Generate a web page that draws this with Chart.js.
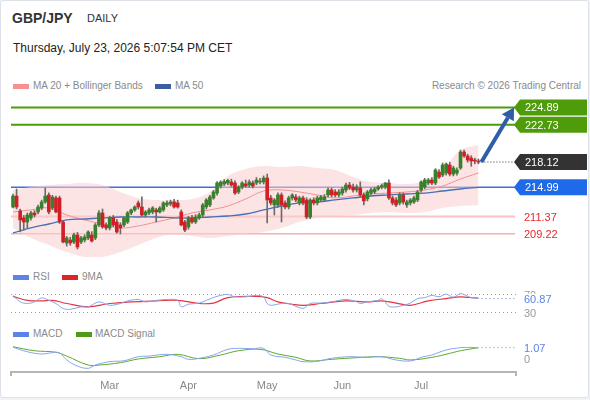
<!DOCTYPE html>
<html>
<head>
<meta charset="utf-8">
<script src="https://cdn.jsdelivr.net/npm/chart.js@4.4.1/dist/chart.umd.min.js"></script>
<style>
  body { margin: 0; background: #f1f3f6; font-family: Arial, "Liberation Sans", sans-serif; }
  #card { position: absolute; left: 0; top: 0; width: 587px; height: 396px; background: #fff; border: 1px solid #dde2e8; border-radius: 3px; }
  canvas { position: absolute; left: 0; }
  .t { position: absolute; white-space: nowrap; line-height: 1; }
  .lg { position: absolute; white-space: nowrap; font-size: 10px; color: #8a8a8a; line-height: 1; }
  .sw { position: absolute; width: 16px; height: 5px; }
</style>
</head>
<body>
<div id="card"></div>
<div class="t" style="left:12px;top:11px;font-size:14px;font-weight:bold;color:#333">GBP/JPY</div>
<div class="t" style="left:87px;top:13px;font-size:11px;color:#333">DAILY</div>
<div class="t" style="left:13px;top:42px;font-size:12px;color:#222">Thursday, July 23, 2026 5:07:54 PM CET</div>

<div class="sw" style="left:13px;top:84px;background:#f79191"></div>
<div class="lg" style="left:33px;top:81px">MA 20 + Bollinger Bands</div>
<div class="sw" style="left:155px;top:84px;background:#3d5fa0"></div>
<div class="lg" style="left:175px;top:81px">MA 50</div>
<div class="lg" style="left:380px;top:81px;width:201px;text-align:right">Research © 2026 Trading Central</div>

<div class="sw" style="left:13px;top:275px;background:#5b84e6"></div>
<div class="lg" style="left:33px;top:272px">RSI</div>
<div class="sw" style="left:62px;top:275px;background:#e02424"></div>
<div class="lg" style="left:82px;top:272px">9MA</div>

<div class="sw" style="left:13px;top:332px;background:#5b84e6"></div>
<div class="lg" style="left:33px;top:329px">MACD</div>
<div class="sw" style="left:76px;top:332px;background:#4e9a1a"></div>
<div class="lg" style="left:95px;top:329px">MACD Signal</div>

<canvas id="main" width="590" height="172" style="top:90px"></canvas>
<canvas id="rsi" width="590" height="45" style="top:281px"></canvas>
<canvas id="macd" width="590" height="66" style="top:334px"></canvas>

<script>
// daily candles, GBP/JPY, 22 Jan - 23 Jul
const opens = [212.55,213.91,212.06,211.19,210.69,211.19,211.81,211.93,212.43,213.17,
  214.04,212.43,213.67,213.67,210.69,208.09,208.46,208.21,209.08,208.21,
  208.46,208.71,209.08,208.71,210.32,211.81,210.32,209.95,211.19,210.69,
  210.32,210.32,210.69,211.81,212.18,213.05,212.55,211.56,211.81,211.93,
  212.18,211.93,212.18,212.80,212.92,213.17,213.05,211.93,210.69,210.07,
  211.19,210.69,211.19,211.56,212.55,212.80,213.67,214.28,215.15,215.40,
  215.52,215.65,215.52,214.41,215.03,215.40,215.27,215.52,215.52,215.65,
  215.65,216.14,213.67,212.80,212.80,214.04,213.05,212.55,213.67,213.79,
  213.05,213.67,213.42,211.31,213.42,213.05,213.42,213.42,214.04,214.66,
  214.41,214.04,214.28,214.66,215.27,215.03,214.66,214.90,214.04,213.55,
  214.28,214.41,214.78,215.03,215.03,215.52,213.67,213.42,213.05,214.04,
  212.80,213.05,213.17,213.42,214.66,215.03,215.52,215.89,215.52,216.88,
  216.51,216.76,217.75,216.63,216.76,217.38,219.36,218.87,218.62,218.37,218.25];
const highs = [214.16,214.78,212.30,211.50,211.81,212.00,212.10,212.80,213.40,214.90,
  214.30,214.00,213.90,213.90,210.90,208.90,208.80,209.30,209.40,208.90,
  209.10,209.60,209.50,210.50,212.10,212.30,210.60,211.40,211.50,211.00,
  210.60,211.30,212.00,212.30,212.70,213.30,213.80,212.10,212.40,212.60,
  212.40,212.60,213.20,213.30,213.40,213.50,213.40,212.20,210.90,211.40,
  211.50,211.60,211.80,213.00,213.60,214.00,214.60,215.70,215.80,215.95,
  216.00,216.00,215.80,215.20,215.70,215.90,215.90,215.80,216.20,216.10,
  216.40,216.63,214.00,213.60,214.30,214.30,213.30,213.90,214.20,214.10,
  213.90,213.90,213.70,213.60,213.70,213.90,214.00,214.10,214.90,214.90,
  214.70,214.70,215.00,215.50,215.60,215.40,215.30,215.65,214.30,214.60,
  214.90,215.00,215.20,215.40,215.60,215.90,213.90,213.70,214.30,214.30,
  213.40,213.60,213.90,214.60,215.80,216.10,216.10,216.20,217.30,217.20,
  218.00,218.00,218.10,217.60,217.40,219.60,219.60,219.10,218.90,218.60,218.50];
const lows = [212.43,212.30,209.45,209.70,209.95,210.90,211.30,211.70,212.20,213.00,
  211.70,212.20,211.80,210.50,208.10,207.70,207.80,208.00,207.34,208.00,
  208.20,208.50,208.20,208.50,210.10,209.90,209.70,209.70,210.10,209.30,
  209.20,210.10,210.50,211.60,212.00,212.30,211.40,211.30,211.60,211.70,
  210.70,211.80,212.00,212.60,212.70,212.40,212.40,210.20,209.50,209.80,
  210.50,210.50,211.00,211.30,212.30,212.60,213.50,214.00,214.90,215.20,
  215.30,215.10,214.10,214.20,214.80,215.00,215.00,214.90,215.30,215.40,
  215.40,210.57,212.80,211.56,212.50,210.69,212.30,212.30,213.40,213.20,
  212.80,212.80,211.10,211.10,212.80,212.80,213.20,213.20,213.80,213.80,
  213.80,213.80,214.00,214.40,214.70,214.40,214.40,213.80,212.80,213.30,
  214.00,214.20,214.60,214.80,214.80,213.50,212.80,212.60,212.80,212.90,
  212.50,212.80,213.00,213.20,214.40,214.80,215.30,215.30,215.30,216.10,
  216.30,216.50,216.40,216.40,216.50,217.20,218.70,218.10,217.60,217.90,217.90];
const closes = [213.91,212.55,210.94,210.69,211.56,211.81,211.56,212.55,213.17,213.91,
  211.93,213.79,211.93,210.69,208.21,208.71,208.09,209.08,207.59,208.71,
  208.83,209.45,208.33,210.32,211.81,210.07,209.95,211.19,210.32,209.45,
  209.95,211.19,211.81,212.18,212.55,212.55,211.56,211.93,212.18,212.43,
  211.93,212.43,213.05,213.05,213.17,212.55,212.55,210.32,209.70,211.19,
  210.69,211.31,211.56,212.80,213.42,213.79,214.41,215.52,215.65,215.70,
  215.85,215.27,214.28,215.03,215.52,215.15,215.65,215.15,215.89,215.77,
  216.14,213.42,213.05,213.42,214.04,212.80,212.55,213.67,214.04,213.42,
  213.67,213.05,211.31,213.42,213.05,213.67,213.79,213.79,214.66,214.04,
  214.04,214.41,214.78,215.27,214.90,214.66,215.03,214.04,213.30,214.41,
  214.66,214.78,215.03,215.20,215.52,213.67,213.05,212.80,214.04,213.17,
  213.17,213.42,213.67,214.41,215.65,215.89,215.89,215.52,217.13,216.26,
  217.75,217.87,216.63,217.38,217.13,219.36,218.87,218.37,218.25,218.25,218.12];

// indicator readings (bar index -> value)
const bandIdx = [0,5,10,15,20,25,30,35,40,45,50,55,60,65,70,75,80,85,90,95,100,105,110,115,120,125,130];
const bbUpper = [214.66,215.03,215.27,215.40,215.52,215.27,214.41,213.67,213.42,213.42,213.54,214.41,216.39,217.26,217.63,217.51,217.63,217.38,217.13,216.27,215.65,215.52,215.40,215.77,217.13,219.61,220.23];
const bbLower = [209.95,208.71,207.84,206.97,206.35,206.35,206.97,207.84,208.71,209.20,208.96,208.71,208.96,209.20,209.45,209.95,210.69,211.19,211.43,211.56,211.81,211.93,211.81,211.93,212.43,212.67,212.80];
const ma20 = [211.93,212.18,212.43,211.56,210.94,210.44,209.95,210.20,210.69,211.19,211.81,212.18,212.67,213.54,214.53,214.66,214.41,214.04,213.67,213.91,214.16,214.28,214.41,214.66,215.15,216.02,216.76];
const ma50 = [209.33,209.95,210.44,210.94,211.06,211.19,211.31,211.31,211.31,211.19,211.19,211.31,211.43,211.68,212.18,212.67,213.05,213.17,213.42,213.67,213.91,214.04,214.16,214.28,214.53,214.78,214.99];

const rsiIdx = [0,2,4,6,8,10,12,14,16,19,21,24,27,30,32,35,37,40,43,46,47,49,52,54,57,60,62,65,68,70,71,72,75,77,81,83,86,89,93,96,97,99,102,103,105,107,109,111,113,115,117,119,121,123,125,127,128,130];
const rsiVals = [68,53.6,50,53.6,62.6,57,50,39,37,42.5,42.5,53.6,46,50,55.8,59,53.6,57,59,57,42.5,48.4,51,57,66,70,64.7,64.7,68,64.7,50,46,50,50,39,50,51,53.6,59,53.6,50,53.6,57,61,44,42.5,46,51,61,63,68,65,70.7,64,72,66,63,60.87];
const rsiMaIdx = [0,4,8,11,15,21,27,33,40,46,52,56,60,68,71,74,78,81,86,93,99,103,107,111,116,121,125,127,130];
const rsiMaVals = [66,57,55.8,57,50,42.5,50,53.6,55.8,57,50,51,63,66,63,53.6,48.4,46,50,55.8,53.6,55.8,51,46,55.8,61,64.7,63.5,62];

const macdIdx = [0,4,8,11,13,15,18,21,23,27,31,35,38,43,47,49,52,56,60,63,67,70,72,76,79,81,85,89,94,99,103,107,111,114,117,121,125,127,130];
const macdVals = [1.11,0.70,0.49,0.61,0.59,-0.06,-0.62,-0.83,-0.53,-0.22,-0.13,0.24,0.30,0.46,0.24,0.00,0.09,0.40,0.92,1.01,0.98,1.01,0.40,0.18,-0.06,-0.22,-0.18,0.09,0.24,0.18,0.24,-0.06,-0.15,0.18,0.40,0.86,1.07,1.10,1.07];
const sigIdx = [0,6,12,15,21,24,30,35,41,46,52,58,63,69,74,79,83,89,96,102,108,111,117,122,125,130];
const sigVals = [1.16,0.79,0.65,0.30,-0.53,-0.53,-0.31,0.03,0.24,0.46,0.06,0.40,0.79,0.92,0.49,0.18,-0.15,0.00,0.15,0.24,0.09,-0.06,0.18,0.55,0.79,1.07];

const monthTicks = [27, 49, 71, 92, 114];
const monthLabels = ['Mar', 'Apr', 'May', 'Jun', 'Jul'];

const targets = [224.89, 222.73];
const pivot = 214.99;
const supports = [211.37, 209.22];

const FONT = 'Arial, "Liberation Sans", sans-serif';
const X_MIN = -0.56, X_MAX = 140.5;
const PAD = { left: 11, right: 74 };
const last = closes.length - 1;

const pts = (idx, vals) => idx.map((x, i) => ({ x: x, y: vals[i] }));
const hidden = { display: false };
const xAxis = { type: 'linear', min: X_MIN, max: X_MAX, offset: false, display: false };

function tag(ctx, x, y, text, bg) {
  const h = 16, w = 73, tip = 6;
  ctx.fillStyle = bg;
  ctx.beginPath();
  ctx.moveTo(x, y);
  ctx.lineTo(x + tip, y - h / 2);
  ctx.lineTo(x + w, y - h / 2);
  ctx.lineTo(x + w, y + h / 2);
  ctx.lineTo(x + tip, y + h / 2);
  ctx.closePath();
  ctx.fill();
  ctx.fillStyle = '#fff';
  ctx.font = '11px ' + FONT;
  ctx.textAlign = 'left';
  ctx.textBaseline = 'middle';
  ctx.fillText(text, x + 11, y + 1);
}

function hline(ctx, x1, x2, y, color, width, dash) {
  ctx.save();
  ctx.strokeStyle = color;
  ctx.lineWidth = width;
  ctx.setLineDash(dash || []);
  ctx.beginPath();
  ctx.moveTo(x1, y);
  ctx.lineTo(x2, y);
  ctx.stroke();
  ctx.restore();
}

function label(ctx, x, y, text, color) {
  ctx.fillStyle = color;
  ctx.font = '11px ' + FONT;
  ctx.textAlign = 'left';
  ctx.textBaseline = 'middle';
  ctx.fillText(text, x, y + 1);
}

// price panel: level lines, targets, arrow
const levelPlugin = {
  id: 'levels',
  beforeDatasetsDraw(chart) {
    const { ctx, chartArea: a, scales: { y } } = chart;
    targets.forEach(v => hline(ctx, a.left, a.right - 1, y.getPixelForValue(v), '#4f9c0b', 2));
    hline(ctx, a.left, a.right - 1, y.getPixelForValue(pivot), '#3f6fd6', 1.5);
    hline(ctx, a.left, a.right - 1, y.getPixelForValue(supports[0]), '#f6c4c4', 2);
    hline(ctx, a.left, a.right - 1, y.getPixelForValue(supports[1]), '#f28a8a', 1);
  },
  afterDatasetsDraw(chart) {
    const { ctx, chartArea: a, scales: { x, y } } = chart;
    const lx = x.getPixelForValue(last), ly = y.getPixelForValue(closes[last]);
    const tx = a.right - 2;
    hline(ctx, lx + 3, tx, ly, '#333', 1, [1, 2]);

    // arrow towards the first target
    const ty = y.getPixelForValue(targets[0]);
    const x0 = lx + 3, y0 = ly;
    const ang = Math.atan2(ty - y0, tx - x0);
    const hl = 12, hw = 7;
    const bx = tx - hl * Math.cos(ang), by = ty - hl * Math.sin(ang);
    ctx.save();
    ctx.strokeStyle = '#2e5ea8';
    ctx.fillStyle = '#2e5ea8';
    ctx.lineWidth = 4;
    ctx.beginPath();
    ctx.moveTo(x0, y0);
    ctx.lineTo(bx, by);
    ctx.stroke();
    ctx.beginPath();
    ctx.moveTo(tx, ty);
    ctx.lineTo(bx + hw * Math.sin(ang), by - hw * Math.cos(ang));
    ctx.lineTo(bx - hw * Math.sin(ang), by + hw * Math.cos(ang));
    ctx.closePath();
    ctx.fill();
    ctx.restore();

    targets.forEach(v => tag(ctx, tx, y.getPixelForValue(v), v.toFixed(2), '#4f9c0b'));
    tag(ctx, tx, ly, closes[last].toFixed(2), '#333333');
    tag(ctx, tx, y.getPixelForValue(pivot), pivot.toFixed(2), '#1f6ae8');
    supports.forEach(v => label(ctx, a.right + 8, y.getPixelForValue(v), v.toFixed(2), '#e8262b'));
  }
};

new Chart(document.getElementById('main'), {
  type: 'bar',
  data: {
    datasets: [
      {
        label: 'body', order: 0, grouped: false,
        data: closes.map((c, i) => ({ x: i, y: [opens[i], c] })),
        backgroundColor: closes.map((c, i) => c >= opens[i] ? '#37812a' : '#d21f26'),
        barThickness: 3, minBarLength: 1
      },
      {
        label: 'wick', order: 1, grouped: false,
        data: highs.map((h, i) => ({ x: i, y: [lows[i], h] })),
        backgroundColor: '#6b6b6b',
        barThickness: 1
      },
      {
        type: 'line', label: 'MA 50', order: 2,
        data: pts(bandIdx, ma50),
        borderColor: '#4a6fb5', borderWidth: 1.3, pointRadius: 0, tension: 0.4
      },
      {
        type: 'line', label: 'MA 20', order: 3,
        data: pts(bandIdx, ma20),
        borderColor: '#f29090', borderWidth: 1, pointRadius: 0, tension: 0.4
      },
      {
        type: 'line', label: 'upper', order: 4,
        data: pts(bandIdx, bbUpper),
        borderWidth: 0, pointRadius: 0, tension: 0.4,
        fill: '+1', backgroundColor: 'rgba(251, 205, 205, 0.55)'
      },
      {
        type: 'line', label: 'lower', order: 5,
        data: pts(bandIdx, bbLower),
        borderWidth: 0, pointRadius: 0, tension: 0.4
      }
    ]
  },
  options: {
    responsive: false, animation: false, events: [],
    layout: { padding: { left: PAD.left, right: PAD.right, top: 5, bottom: 5 } },
    plugins: { legend: hidden, tooltip: { enabled: false } },
    scales: {
      x: xAxis,
      y: { min: 206.35, max: 226.43, display: false }
    }
  },
  plugins: [levelPlugin]
});

// RSI panel
const rsiPlugin = {
  id: 'rsiLevels',
  beforeDatasetsDraw(chart) {
    const { ctx, chartArea: a, scales: { y } } = chart;
    [70, 30].forEach(v => hline(ctx, a.left, a.right, y.getPixelForValue(v), '#a0a0a0', 1, [1, 3]));
  },
  afterDatasetsDraw(chart) {
    const { ctx, chartArea: a, scales: { x, y } } = chart;
    const v = rsiVals[rsiVals.length - 1];
    const py = y.getPixelForValue(v);
    hline(ctx, x.getPixelForValue(rsiIdx[rsiIdx.length - 1]) + 3, a.right, py, '#5b84e6', 1, [1, 3]);
    label(ctx, a.right + 8, y.getPixelForValue(70), '70', '#999');
    label(ctx, a.right + 8, y.getPixelForValue(30), '30', '#999');
    ctx.fillStyle = '#fff';
    ctx.fillRect(a.right + 7, py - 5, 32, 11);
    label(ctx, a.right + 8, py, v.toFixed(2), '#5b84e6');
  }
};

new Chart(document.getElementById('rsi'), {
  type: 'line',
  data: {
    datasets: [
      { label: 'RSI', data: pts(rsiIdx, rsiVals), borderColor: '#86a4ee', borderWidth: 1, pointRadius: 0, tension: 0.35 },
      { label: '9MA', data: pts(rsiMaIdx, rsiMaVals), borderColor: '#e8343c', borderWidth: 1.2, pointRadius: 0, tension: 0.4 }
    ]
  },
  options: {
    responsive: false, animation: false, events: [],
    layout: { padding: { left: PAD.left, right: PAD.right, top: 0, bottom: 0 } },
    plugins: { legend: hidden, tooltip: { enabled: false } },
    scales: {
      x: xAxis,
      y: { min: 0, max: 100, display: false }
    }
  },
  plugins: [rsiPlugin]
});

// MACD panel with the shared date axis
const macdPlugin = {
  id: 'macdLabels',
  afterDatasetsDraw(chart) {
    const { ctx, chartArea: a, scales: { x, y } } = chart;
    const v = macdVals[macdVals.length - 1];
    const py = y.getPixelForValue(v);
    hline(ctx, x.getPixelForValue(macdIdx[macdIdx.length - 1]) + 3, a.right, py, '#5b84e6', 1, [1, 3]);
    label(ctx, a.right + 8, py, v.toFixed(2), '#5b84e6');
    label(ctx, a.right + 8, y.getPixelForValue(0), '0', '#999');
  },
  afterDraw(chart) {
    const { ctx, chartArea: a } = chart;
    ctx.save();
    ctx.strokeStyle = '#b5b5b5';
    ctx.lineWidth = 2;
    ctx.beginPath();
    ctx.moveTo(a.left, a.bottom); ctx.lineTo(a.left, a.bottom + 4);
    ctx.moveTo(a.right, a.bottom); ctx.lineTo(a.right, a.bottom + 4);
    ctx.stroke();
    ctx.restore();
  }
};

new Chart(document.getElementById('macd'), {
  type: 'line',
  data: {
    datasets: [
      { label: 'MACD', data: pts(macdIdx, macdVals), borderColor: '#86a4ee', borderWidth: 1, pointRadius: 0, tension: 0.4 },
      { label: 'MACD Signal', data: pts(sigIdx, sigVals), borderColor: '#5ea82a', borderWidth: 1, pointRadius: 0, tension: 0.4 }
    ]
  },
  options: {
    responsive: false, animation: false, events: [],
    layout: { padding: { left: PAD.left, right: PAD.right, top: 4, bottom: 0 } },
    plugins: { legend: hidden, tooltip: { enabled: false } },
    scales: {
      x: {
        type: 'linear', min: X_MIN, max: X_MAX, offset: false,
        afterBuildTicks: axis => { axis.ticks = monthTicks.map(v => ({ value: v })); },
        afterFit: axis => { axis.height = 28; },
        grid: { display: false, drawTicks: false },
        border: { display: true, color: '#b5b5b5', width: 2 },
        ticks: {
          autoSkip: false, maxRotation: 0, padding: 7,
          color: '#888', font: { family: FONT, size: 11 },
          callback: v => monthLabels[monthTicks.indexOf(v)]
        }
      },
      y: { min: -1.17, max: 1.965, display: false }
    }
  },
  plugins: [macdPlugin]
});
</script>
</body>
</html>
